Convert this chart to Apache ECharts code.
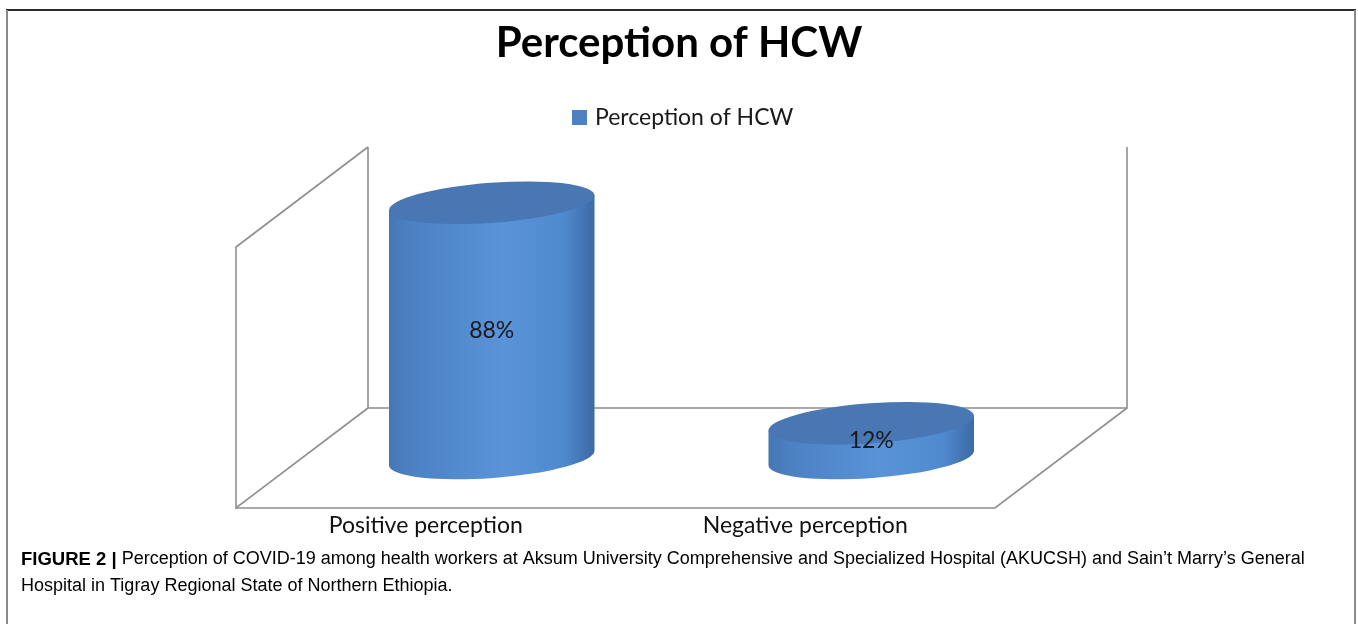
<!DOCTYPE html>
<html>
<head>
<meta charset="utf-8">
<script src="https://cdn.jsdelivr.net/npm/echarts@6/dist/echarts.min.js"></script>
<style>
  html, body { margin: 0; padding: 0; background: #ffffff; }
  #chart { width: 1358px; height: 624px; }
</style>
</head>
<body>
<div id="chart"></div>
<script>
// ---- data ----
var chartTitle = 'Perception of HCW';
var seriesName = 'Perception of HCW';
var categories = ['Positive perception', 'Negative perception'];
var values = [88, 12];
var valueSuffix = '%';
var axisMax = 90;
var captionBold = 'FIGURE 2 |';
var captionLine1 = ' Perception of COVID-19 among health workers at Aksum University Comprehensive and Specialized Hospital (AKUCSH) and Sain\u2019t Marry\u2019s General';
var captionLine2 = 'Hospital in Tigray Regional State of Northern Ethiopia.';

// ---- style constants ----
var DEPTH_X = 66, DEPTH_Y = 50;
var BAR_FRAC = 0.543;
var TILT = -4.2 * Math.PI / 180;
var FONT = 'Lato, "Open Sans", sans-serif';
var CAP_FONT = '"Liberation Sans", Arial, sans-serif';

var chart = echarts.init(document.getElementById('chart'), null, { renderer: 'canvas' });

function ellipsePath(cx, cy, a, b, th) {
  var deg = th * 180 / Math.PI;
  var x1 = cx - a * Math.cos(th), y1 = cy - a * Math.sin(th);
  var x2 = cx + a * Math.cos(th), y2 = cy + a * Math.sin(th);
  return 'M' + x1 + ' ' + y1 +
    ' A' + a + ' ' + b + ' ' + deg + ' 1 0 ' + x2 + ' ' + y2 +
    ' A' + a + ' ' + b + ' ' + deg + ' 1 0 ' + x1 + ' ' + y1 + ' Z';
}

var barData = values.map(function (v, i) { return [i, v]; });

var option = {
  backgroundColor: '#ffffff',
  animation: false,
  title: {
    text: chartTitle,
    left: 'center',
    top: 17,
    textStyle: { fontFamily: FONT, fontWeight: 'bold', fontSize: 42, color: '#000000' }
  },
  legend: {
    data: [seriesName],
    left: 572,
    top: 106,
    padding: 0,
    icon: 'rect',
    itemWidth: 15,
    itemHeight: 15,
    itemGap: 10,
    textStyle: { fontFamily: FONT, fontSize: 23, color: '#1a1a1a', padding: [0, 0, 0, 3] }
  },
  grid: [
    { left: 302, right: 297, top: 197, bottom: 166 },
    { left: 236, right: 363, top: 300, bottom: 116 }
  ],
  xAxis: [
    { type: 'category', gridIndex: 0, data: categories,
      axisLine: { show: false }, axisTick: { show: false }, axisLabel: { show: false }, splitLine: { show: false } },
    { type: 'category', gridIndex: 1, data: categories,
      axisLine: { show: false }, axisTick: { show: false },
      axisLabel: { show: true, fontFamily: FONT, fontSize: 23, color: '#111111', margin: 6 } }
  ],
  yAxis: [
    { type: 'value', gridIndex: 0, min: 0, max: axisMax, show: false, splitLine: { show: false } },
    { type: 'value', gridIndex: 1, show: false, splitLine: { show: false } }
  ],
  graphic: [
    { type: 'line', shape: { x1: 6, y1: 10, x2: 1356, y2: 10 }, style: { stroke: '#2a2a2a', lineWidth: 2 }, silent: true },
    { type: 'line', shape: { x1: 7, y1: 10, x2: 7, y2: 624 }, style: { stroke: '#8a8a8a', lineWidth: 2 }, silent: true },
    { type: 'line', shape: { x1: 1355, y1: 10, x2: 1355, y2: 624 }, style: { stroke: '#8a8a8a', lineWidth: 2 }, silent: true },
    {
      type: 'text', left: 21, top: 550, silent: true,
      style: {
        text: '{b|' + captionBold + '}{n|' + captionLine1 + '}\n{n|' + captionLine2 + '}',
        rich: {
          b: { fontFamily: CAP_FONT, fontWeight: 'bold', fontSize: 18.5, color: '#222222', lineHeight: 27 },
          n: { fontFamily: CAP_FONT, fontSize: 18, color: '#333333', lineHeight: 27 }
        }
      }
    }
  ],
  series: [
    {
      type: 'custom',
      name: 'frame',
      xAxisIndex: 0, yAxisIndex: 0,
      data: [[0, 0]],
      silent: true,
      z: 1,
      renderItem: function (params, api) {
        var c = params.coordSys;
        var x = c.x, y = c.y, w = c.width, h = c.height;
        var btl = [x + DEPTH_X, y - DEPTH_Y], bbl = [x + DEPTH_X, y + h - DEPTH_Y];
        var bbr = [x + w + DEPTH_X, y + h - DEPTH_Y], btr = [x + w + DEPTH_X, y - DEPTH_Y];
        var ftl = [x - DEPTH_X, y + DEPTH_Y], fbl = [x - DEPTH_X, y + h + DEPTH_Y];
        var fbr = [x + w - DEPTH_X, y + h + DEPTH_Y];
        var st = { stroke: '#8f8f8f', lineWidth: 1.6, fill: null };
        return {
          type: 'group',
          children: [
            { type: 'polyline', shape: { points: [btl, bbl, bbr, btr] }, style: st },
            { type: 'polyline', shape: { points: [btl, ftl, fbl, bbl] }, style: st },
            { type: 'polyline', shape: { points: [fbl, fbr, bbr] }, style: st }
          ]
        };
      }
    },
    {
      type: 'custom',
      name: seriesName,
      xAxisIndex: 0, yAxisIndex: 0,
      data: barData,
      z: 5,
      itemStyle: { color: '#4f81c2' },
      renderItem: function (params, api) {
        var idx = api.value(0), val = api.value(1);
        var top = api.coord([idx, val]);
        var base = api.coord([idx, 0]);
        var bw = api.size([1, 0])[0] * BAR_FRAC;
        var a = bw / 2, b = bw * 0.097;
        var th = TILT;
        var cx = top[0];
        var ca = Math.cos(th), sa = Math.sin(th);
        var deg = th * 180 / Math.PI;
        var tl = [cx - a * ca, top[1] - a * sa], tr = [cx + a * ca, top[1] + a * sa];
        var bl = [cx - a * ca, base[1] - a * sa], br = [cx + a * ca, base[1] + a * sa];
        var bodyPath = 'M' + tl[0] + ' ' + tl[1] + ' L' + bl[0] + ' ' + bl[1] +
          ' A' + a + ' ' + b + ' ' + deg + ' 0 0 ' + br[0] + ' ' + br[1] +
          ' L' + tr[0] + ' ' + tr[1] + ' Z';
        var grad = new echarts.graphic.LinearGradient(0, 0, 1, 0, [
          { offset: 0, color: '#4577b4' },
          { offset: 0.12, color: '#4c82c4' },
          { offset: 0.55, color: '#5a93d8' },
          { offset: 0.85, color: '#508ace' },
          { offset: 0.93, color: '#4578b8' },
          { offset: 1, color: '#3c6aa3' }
        ]);
        return {
          type: 'group',
          children: [
            { type: 'path', shape: { pathData: bodyPath }, style: { fill: grad, stroke: null } },
            { type: 'path', shape: { pathData: ellipsePath(cx, top[1], a, b, th) },
              style: { fill: '#4877b3', stroke: null } },
            { type: 'text', style: {
                x: cx, y: (top[1] + base[1]) / 2,
                text: val + valueSuffix,
                align: 'center', verticalAlign: 'middle',
                fontFamily: FONT, fontSize: 23, fill: '#1a1a1a'
              }, z2: 10 }
          ]
        };
      }
    }
  ]
};

chart.setOption(option);
</script>
</body>
</html>
